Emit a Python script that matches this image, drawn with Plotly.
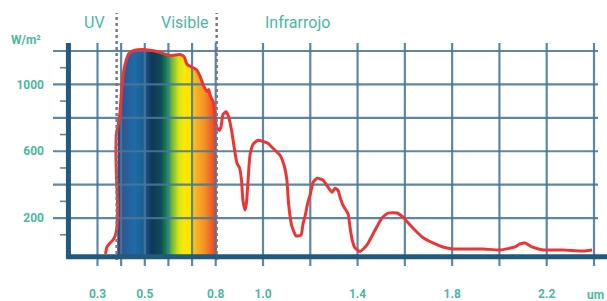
import plotly.graph_objects as go

# ---- data ----
wavelength_um = [0.334, 0.340, 0.353, 0.366, 0.376, 0.382, 0.385, 0.380, 0.378, 0.380,
                 0.387, 0.395, 0.402, 0.410, 0.421, 0.433, 0.454, 0.492, 0.543, 0.607,
                 0.649, 0.666, 0.679, 0.698, 0.717, 0.734, 0.750, 0.763, 0.770, 0.778,
                 0.789, 0.797, 0.803, 0.814, 0.822, 0.831, 0.844, 0.854, 0.867, 0.882,
                 0.890, 0.901, 0.909, 0.915, 0.924, 0.930, 0.937, 0.945, 0.958, 0.979,
                 1.004, 1.021, 1.038, 1.072, 1.089, 1.101, 1.108, 1.121, 1.140, 1.161,
                 1.169, 1.178, 1.190, 1.199, 1.212, 1.229, 1.254, 1.275, 1.292, 1.305,
                 1.317, 1.326, 1.338, 1.360, 1.368, 1.377, 1.389, 1.410, 1.440, 1.474,
                 1.503, 1.529, 1.567, 1.592, 1.630, 1.673, 1.719, 1.761, 1.804, 1.931,
                 2.003, 2.066, 2.087, 2.109, 2.138, 2.185, 2.269, 2.354, 2.392]
irradiance = [-15, 27, 51, 69, 99, 146, 278, 457, 606, 708,
              755, 833, 964, 1072, 1143, 1185, 1203, 1209, 1200, 1173,
              1179, 1167, 1119, 1104, 1090, 1048, 988, 958, 970, 928,
              899, 815, 749, 725, 743, 821, 836, 809, 725, 588,
              528, 499, 427, 307, 248, 290, 427, 576, 642, 666,
              657, 648, 624, 576, 516, 427, 290, 158, 93, 99,
              164, 212, 296, 337, 415, 439, 427, 385, 355, 379,
              367, 325, 278, 224, 146, 69, 21, 0, 39, 128,
              200, 230, 230, 206, 146, 87, 51, 27, 15, 15,
              9, 27, 45, 51, 27, 9, 9, 3, 9]

x_grid = [0.3, 0.4, 0.5, 0.6, 0.7, 0.8, 1.0, 1.2, 1.4, 1.6, 1.8, 2.0, 2.2, 2.4]
x_tick_vals = [0.3, 0.5, 0.8, 1.0, 1.4, 1.8, 2.2]
x_tick_text = ["0.3", "0.5", "0.8", "1.0", "1.4", "1.8", "2.2"]
y_grid = [200, 400, 600, 800, 1000, 1200]
y_minor = [100, 300, 500, 700, 900, 1100]
y_tick_vals = [200, 600, 1000]
y_tick_text = ["200", "600", "1000"]
region_labels = ["UV", "Visible", "Infrarrojo"]
region_x = [0.2852, 0.670, 1.144]
visible_band = [0.383, 0.804]
uv_boundary = 0.381
ir_boundary = 0.804
spectrum_colors = [
    [0.00, "#473f78"], [0.07, "#2b5a96"], [0.18, "#1e6ca6"], [0.27, "#1a5d93"],
    [0.35, "#10375a"], [0.44, "#0f4c55"], [0.50, "#13894e"], [0.55, "#6cb83a"],
    [0.62, "#d8e41a"], [0.68, "#ffe800"], [0.74, "#fde000"], [0.79, "#f9b423"],
    [0.88, "#f39025"], [1.00, "#ea3b2a"]]

# ---- style ----
X_RANGE = [0.1118, 2.455]
Y_RANGE = [-87, 1248]
AXIS_Y = -32
AXIS_X = 0.177
TEAL = "#4cb8a4"
GRID = "rgba(72,118,152,0.88)"
AXIS_COL = "#215a7c"
FONT = "Roboto"

fig = go.Figure()

# visible spectrum gradient under the curve
lo, hi = visible_band
band_x = [lo] + [w for w in wavelength_um if lo <= w <= hi] + [hi]
band_y = [AXIS_Y] + [v for w, v in zip(wavelength_um, irradiance) if lo <= w <= hi] + [AXIS_Y]
fig.add_trace(go.Scatter(
    x=band_x, y=band_y, mode="lines", fill="toself", line=dict(width=0),
    fillgradient=dict(type="horizontal", colorscale=spectrum_colors, start=lo, stop=hi),
    hoverinfo="skip", showlegend=False))

# grid lines (above the gradient, below the curve)
gx, gy = [], []
for v in y_grid:
    gx += [X_RANGE[0], 2.417, None]
    gy += [v, v, None]
for v in x_grid:
    gx += [v, v, None]
    gy += [Y_RANGE[0], Y_RANGE[1], None]
fig.add_trace(go.Scatter(x=gx, y=gy, mode="lines", line=dict(color=GRID, width=2.2),
                         hoverinfo="skip", showlegend=False, cliponaxis=False))

# irradiance curve
fig.add_trace(go.Scatter(x=wavelength_um, y=irradiance, mode="lines",
                         line=dict(color="#ee3535", width=3, shape="spline", smoothing=0.5),
                         hoverinfo="skip", showlegend=False))

shapes = []
for v in y_minor:
    shapes.append(dict(type="line", xref="x", yref="y", x0=0.141, x1=AXIS_X, y0=v, y1=v,
                       line=dict(color=GRID, width=1.6), layer="above"))
for xb in [uv_boundary, ir_boundary]:
    shapes.append(dict(type="line", xref="x", yref="paper", x0=xb, x1=xb, y0=0.027, y1=1.134,
                       line=dict(color="#7a7a7a", width=2.5, dash="dot"), layer="above"))
shapes.append(dict(type="line", xref="x", yref="paper", x0=AXIS_X, x1=AXIS_X, y0=0.04, y1=1,
                   line=dict(color=AXIS_COL, width=5), layer="above"))
shapes.append(dict(type="line", xref="x", yref="y", x0=0.167, x1=X_RANGE[1], y0=AXIS_Y, y1=AXIS_Y,
                   line=dict(color=AXIS_COL, width=5), layer="above"))

annotations = []
for t, xv in zip(region_labels, region_x):
    annotations.append(dict(text=t, x=xv, xref="x", y=1.0897, yref="paper", yanchor="middle",
                            xanchor="center", showarrow=False,
                            font=dict(family=FONT, size=16, color=TEAL)))
annotations.append(dict(text="W/m²", x=-0.048, xref="paper", y=1.0135, yref="paper",
                        xanchor="center", yanchor="middle", showarrow=False,
                        font=dict(family=FONT, size=12, color=TEAL, weight="bold")))
annotations.append(dict(text="um", x=0.999, xref="paper", y=-0.128, yref="paper",
                        xanchor="right", yanchor="middle", showarrow=False,
                        font=dict(family=FONT, size=12, color=TEAL, weight="bold")))

fig.update_layout(
    width=607, height=301,
    margin=dict(l=53, r=0, t=43, b=35),
    paper_bgcolor="white", plot_bgcolor="white",
    hovermode=False,
    shapes=shapes, annotations=annotations,
    xaxis=dict(range=X_RANGE, tickvals=x_tick_vals, ticktext=x_tick_text,
               showgrid=False, zeroline=False, showline=False, ticks="",
               ticklabelstandoff=19, automargin=False,
               tickfont=dict(family=FONT, size=12, color=TEAL, weight="bold")),
    yaxis=dict(range=Y_RANGE, tickvals=y_tick_vals, ticktext=y_tick_text,
               showgrid=False, zeroline=False, showline=False, ticks="",
               ticklabelstandoff=8, automargin=False,
               tickfont=dict(family=FONT, size=12, color=TEAL, weight="bold")),
)

fig.write_html("out.html", config={"displayModeBar": False},
               post_script="document.body.style.margin='0';document.body.style.overflow='hidden';")
